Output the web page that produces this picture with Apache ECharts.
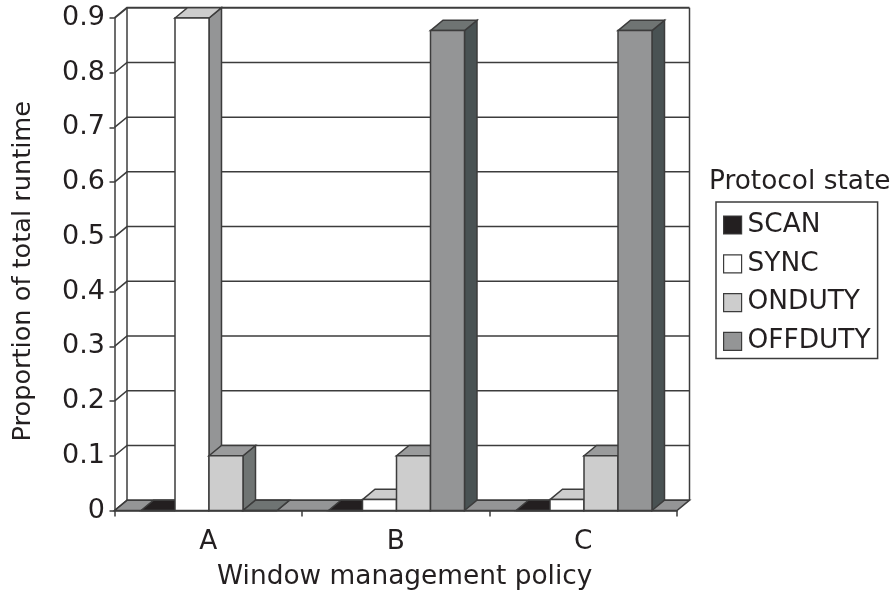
<!DOCTYPE html>
<html>
<head>
<meta charset="utf-8">
<style>html,body{margin:0;padding:0;background:#fff}#c{width:896px;height:591px}</style>
<script src="https://cdn.jsdelivr.net/npm/echarts@6/dist/echarts.min.js"></script>
</head>
<body>
<div id="c"></div>
<script>
var categories = ['A', 'B', 'C'];
var tickValues = [0, 0.1, 0.2, 0.3, 0.4, 0.5, 0.6, 0.7, 0.8, 0.9];
var seriesNames = ['SCAN', 'SYNC', 'ONDUTY', 'OFFDUTY'];
var scan = [0, 0, 0];
var sync = [0.9, 0.02, 0.02];
var onduty = [0.1, 0.1, 0.1];
var offduty = [0, 0.877, 0.877];

var frontColors = ['#231f20', '#ffffff', '#cdcdcd', '#949596'];
var topColors = ['#231f20', '#cdcdcd', '#9a9b9c', '#6f7473'];
var sideColors = ['#231f20', '#949596', '#6f7473', '#495253'];
var floorColor = '#949596';
var lineColor = '#3c3c3c';
var textColor = '#231f20';
var DX = 12.5, DY = 10.3, BAR_W = 34, BAR_START = 26.5;

function poly(points, fill, width) {
  return {
    type: 'polygon',
    shape: { points: points },
    style: { fill: fill, stroke: lineColor, lineWidth: width === undefined ? 1.5 : width }
  };
}
function line(points, width) {
  return {
    type: 'polyline',
    shape: { points: points },
    style: { fill: null, stroke: lineColor, lineWidth: width || 1.5 }
  };
}

function renderWall(params, api) {
  var cs = params.coordSys;
  var y = api.coord([0, api.value(1)])[1];
  var x0 = cs.x, x1 = cs.x + cs.width;
  var v = api.value(1);
  var children = [line([[x0, y], [x0 + DX, y - DY], [x1 + DX, y - DY]], v === 0.9 ? 2 : 1.5)];
  if (v === 0) {
    var yTop = cs.y;
    children.unshift(poly([[x0, y], [x0 + DX, y - DY], [x1 + DX, y - DY], [x1, y]], floorColor));
    children.push(line([[x0 + DX, y - DY], [x0 + DX, yTop - DY]]));
    children.push(line([[x1 + DX, y - DY], [x1 + DX, yTop - DY]]));
  }
  return { type: 'group', children: children };
}

function barRenderer(si) {
  return function (params, api) {
    var cat = api.value(0), val = api.value(1);
    var band = api.size([1, 0])[0];
    var left = api.coord([cat, 0])[0] - band / 2 + BAR_START + si * BAR_W;
    var right = left + BAR_W;
    var y0 = api.coord([cat, 0])[1];
    var yv = api.coord([cat, val])[1];
    var kids = [];
    kids.push(poly([[right, y0], [right + DX, y0 - DY], [right + DX, yv - DY], [right, yv]], sideColors[si]));
    kids.push(poly([[left, yv], [left + DX, yv - DY], [right + DX, yv - DY], [right, yv]], topColors[si]));
    kids.push(poly([[left, y0], [right, y0], [right, yv], [left, yv]], frontColors[si]));
    return { type: 'group', children: kids };
  };
}

var valuesBySeries = [scan, sync, onduty, offduty];
var barSeries = seriesNames.map(function (name, si) {
  return {
    name: name,
    type: 'custom',
    renderItem: barRenderer(si),
    itemStyle: { color: frontColors[si] },
    encode: { x: 0, y: 1 },
    z: 3 + si,
    silent: true,
    data: valuesBySeries[si].map(function (v, i) { return [i, v]; })
  };
});

var wallSeries = {
  name: 'wall',
  type: 'custom',
  renderItem: renderWall,
  encode: { x: 0, y: 1 },
  z: 1,
  silent: true,
  data: tickValues.map(function (v) { return [0, v]; })
};

var chart = echarts.init(document.getElementById('c'), null, { renderer: 'canvas' });
chart.setOption({
  animation: false,
  backgroundColor: '#fff',
  textStyle: { fontFamily: 'DejaVu Sans', color: textColor },
  grid: { left: 114.5, right: 219, top: 18, bottom: 80.5, containLabel: false, outerBoundsMode: 'none' },
  title: {
    text: 'Protocol state',
    left: 709, top: 169,
    padding: 0,
    textStyle: { fontFamily: 'DejaVu Sans', fontSize: 26.4, fontWeight: 'normal', color: textColor }
  },
  legend: {
    left: 716, top: 202,
    orient: 'vertical',
    padding: [10, 7, 4, 7],
    backgroundColor: '#fff',
    borderColor: lineColor,
    borderWidth: 1.5,
    itemWidth: 18,
    itemHeight: 18,
    itemGap: 12.8,
    selectedMode: false,
    textStyle: { fontFamily: 'DejaVu Sans', fontSize: 26.4, color: textColor, padding: [0, 0, 0, 1] },
    data: seriesNames.map(function (n, i) {
      return { name: n, icon: 'rect', itemStyle: { color: frontColors[i], borderColor: lineColor, borderWidth: 1.2 } };
    })
  },
  xAxis: {
    type: 'category',
    data: categories,
    name: 'Window management policy',
    nameLocation: 'middle',
    nameGap: 54,
    nameTextStyle: { fontSize: 26.4, color: textColor, padding: [0, 0, 0, 18] },
    axisLine: { show: true, lineStyle: { color: lineColor, width: 1.5 } },
    axisTick: { show: true, length: 6, alignWithLabel: false, lineStyle: { color: lineColor, width: 1.5 } },
    axisLabel: { fontSize: 26.4, color: textColor, margin: 19 },
    splitLine: { show: false }
  },
  yAxis: {
    type: 'value',
    min: 0, max: 0.9, interval: 0.1,
    name: 'Proportion of total runtime',
    nameLocation: 'middle',
    nameGap: 78,
    nameTextStyle: { fontSize: 25.6, color: textColor, padding: [0, 14, 0, 0] },
    axisLine: { show: true, lineStyle: { color: lineColor, width: 1.5 } },
    axisTick: { show: true, length: 5, lineStyle: { color: lineColor, width: 1.5 } },
    axisLabel: {
      fontSize: 27, color: textColor, margin: 9.5, padding: [4, 0, 0, 0],
      formatter: function (v) { return String(Math.round(v * 10) / 10); }
    },
    splitLine: { show: false }
  },
  series: [wallSeries].concat(barSeries)
});
</script>
</body>
</html>
